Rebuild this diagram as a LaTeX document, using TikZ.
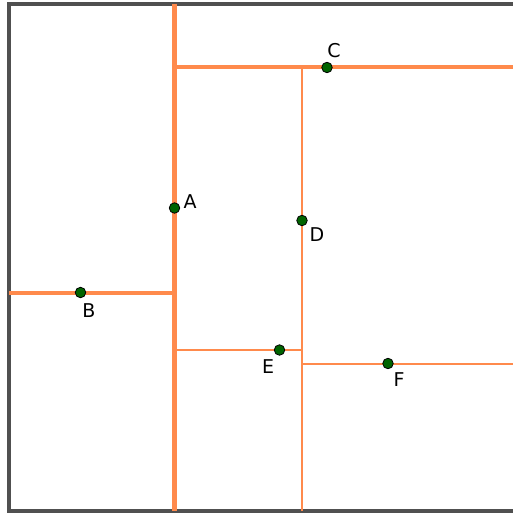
\documentclass[tikz,border=0pt]{standalone}
\usepackage{fontspec}
\setmainfont{DejaVu Sans}
\usetikzlibrary{positioning}
\definecolor{split}{HTML}{FF8A4C}
\definecolor{frame}{HTML}{505050}
\definecolor{site}{HTML}{006400}

\begin{document}
\begin{tikzpicture}[x=1pt,y=-1pt,
  pt/.style={circle,draw=black,fill=site,line width=.8pt,inner sep=0pt,minimum size=10.5pt},
  lbl/.style={font=\fontsize{19}{21}\selectfont,inner sep=0pt}]
\useasboundingbox (0,0) rectangle (512,513);
\draw[frame,line width=3.5pt] (514,4)--(9,4)--(9,511)--(514,511);
% splitting lines, thinner at each level
\draw[split,line width=5pt] (174.5,4)--(174.5,511);
\draw[split,line width=4pt] (9,292.5)--(174.5,292.5);
\draw[split,line width=4pt] (174.5,67.5)--(514,67.5);
\draw[split,line width=2.7pt] (302,67.5)--(302,511);
\draw[split,line width=2pt] (174.5,350)--(302,350);
\draw[split,line width=2pt] (302,363.5)--(514,363.5);
% points
\node[pt] (A) at (174.5,208) {};
\node[pt] (B) at (80.5,292.5) {};
\node[pt] (C) at (327,67.5) {};
\node[pt] (D) at (302,220.5) {};
\node[pt] (E) at (279.5,350) {};
\node[pt] (F) at (388,363.5) {};
\node[lbl] (lA) at (190,202) {A};
\node[lbl] (lB) at (89,311) {B};
\node[lbl] (lC) at (334,51) {C};
\node[lbl] (lD) at (317,235) {D};
\node[lbl] (lE) at (268,367) {E};
\node[lbl] (lF) at (399,380) {F};
\end{tikzpicture}
\end{document}
